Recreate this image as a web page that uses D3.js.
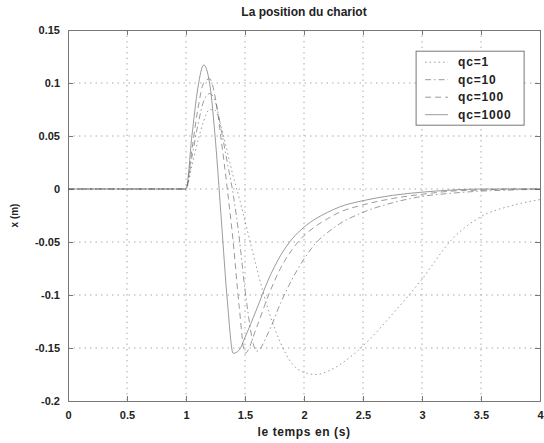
<!DOCTYPE html>
<html>
<head>
<meta charset="utf-8">
<script src="https://cdn.jsdelivr.net/npm/d3@7"></script>
<style>
    body { margin: 0; background: #fff; }
    svg text { font-family: "Liberation Sans", Arial, sans-serif; font-weight: bold; fill: #222; }
</style>
</head>
<body>
<div id="plotSect"></div>
<script>
// Data //

let times = [0, 1, 1.05, 1.1, 1.15, 1.2, 1.25, 1.3, 1.35, 1.4, 1.45, 1.5, 1.6, 1.7, 1.8, 1.9, 2.0, 2.1, 2.2, 2.3, 2.5, 2.75, 3.0, 3.25, 3.5, 3.75, 4.0];

let qc1    = [0, 0, 0.022, 0.045, 0.064, 0.075, 0.074, 0.058, 0.035, 0.012, -0.008, -0.03, -0.075, -0.115, -0.145, -0.165, -0.173, -0.175, -0.172, -0.166, -0.148, -0.118, -0.085, -0.048, -0.026, -0.016, -0.01];
let qc10   = [0, 0, 0.03, 0.06, 0.083, 0.09, 0.082, 0.055, 0.025, -0.005, -0.045, -0.095, -0.153, -0.135, -0.108, -0.085, -0.066, -0.051, -0.041, -0.033, -0.022, -0.013, -0.007, -0.004, -0.002, -0.001, 0];
let qc100  = [0, 0, 0.037, 0.075, 0.1, 0.104, 0.085, 0.045, 0.0, -0.05, -0.11, -0.155, -0.13, -0.1, -0.075, -0.057, -0.044, -0.035, -0.028, -0.022, -0.015, -0.009, -0.005, -0.002, -0.001, 0, 0];
let qc1000 = [0, 0, 0.05, 0.095, 0.117, 0.1, 0.045, -0.03, -0.105, -0.155, -0.152, -0.14, -0.113, -0.085, -0.063, -0.047, -0.036, -0.028, -0.022, -0.017, -0.011, -0.006, -0.003, -0.001, 0, 0, 0];

let seriesNames = ["qc=1", "qc=10", "qc=100", "qc=1000"];
let seriesValues = [qc1, qc10, qc100, qc1000];
let seriesDash = ["1.5,3", "6,3,1.5,3", "6,4", null];

let xTicks = [0, 0.5, 1, 1.5, 2, 2.5, 3, 3.5, 4];
let yTicks = [0.15, 0.1, 0.05, 0, -0.05, -0.1, -0.15, -0.2];

// Chart setup //

let SVGwidth = 544,
SVGheight = 443,
margin = {top: 30, right: 4, bottom: 42, left: 68},
width = SVGwidth - margin.left - margin.right,
height = SVGheight - margin.top - margin.bottom;

let svg = d3.select("#plotSect").append("svg")
    .attr("width", SVGwidth)
    .attr("height", SVGheight)
    .append("g")
    .attr("transform", "translate(" + margin.left + "," + margin.top + ")");

let xScale = d3.scaleLinear().domain([0, 4]).range([0, width]);
let yScale = d3.scaleLinear().domain([-0.2, 0.15]).range([height, 0]);

// dotted grid
svg.append("g")
    .selectAll("line")
    .data(xTicks.slice(1, -1))
    .enter().append("line")
    .attr("x1", xScale).attr("x2", xScale)
    .attr("y1", 0).attr("y2", height)
    .style("stroke", "#aaa")
    .style("stroke-dasharray", "1.5,4");

svg.append("g")
    .selectAll("line")
    .data(yTicks.slice(1, -1))
    .enter().append("line")
    .attr("x1", 0).attr("x2", width)
    .attr("y1", yScale).attr("y2", yScale)
    .style("stroke", "#aaa")
    .style("stroke-dasharray", "1.5,4");

// axes, ticks point inward like matlab
let xAxis = d3.axisBottom(xScale).tickValues(xTicks).tickSize(-5).tickPadding(10)
    .tickFormat(function(d) { return d; });
let yAxis = d3.axisLeft(yScale).tickValues(yTicks).tickSize(-5).tickPadding(8)
    .tickFormat(function(d) { return d; });

svg.append("g")
    .attr("class", "xAxis")
    .attr("transform", "translate(0," + height + ")")
    .call(xAxis);

svg.append("g")
    .attr("class", "yAxis")
    .call(yAxis);

svg.append("g")
    .call(d3.axisTop(xScale).tickValues(xTicks).tickSize(-5).tickFormat(""));

svg.append("g")
    .attr("transform", "translate(" + width + ",0)")
    .call(d3.axisRight(yScale).tickValues(yTicks).tickSize(-5).tickFormat(""));

svg.selectAll(".domain").style("stroke", "#777");
svg.selectAll(".tick line").style("stroke", "#777");
svg.selectAll(".tick text").style("font-size", "11px");

// titles
svg.append("text")
    .attr("x", width / 2)
    .attr("y", -14)
    .style("text-anchor", "middle")
    .style("font-size", "12px")
    .text("La position du chariot");

svg.append("text")
    .attr("transform", "translate(" + (width / 2) + "," + (height + 35) + ")")
    .style("text-anchor", "middle")
    .style("font-size", "12px")
    .style("letter-spacing", "0.6px")
    .text("le temps en (s)");

svg.append("text")
    .attr("transform", "rotate(-90)")
    .attr("x", 0 - yScale(-0.025))
    .attr("y", -50)
    .style("text-anchor", "middle")
    .style("font-size", "10px")
    .text("x (m)");

// curves
let line = d3.line()
    .x(function(d) { return xScale(d[0]); })
    .y(function(d) { return yScale(d[1]); })
    .curve(d3.curveMonotoneX);

seriesValues.forEach(function(vals, i) {
    let pts = times.map(function(t, j) { return [t, vals[j]]; });
    svg.append("path")
        .datum(pts)
        .attr("d", line)
        .style("fill", "none")
        .style("stroke", "#666")
        .style("stroke-opacity", 0.65)
        .style("stroke-width", 1)
        .style("stroke-dasharray", seriesDash[i]);
});

// legend
let legendX = xScale(2.95), legendY = yScale(0.13);
svg.append("rect")
    .attr("x", legendX)
    .attr("y", legendY)
    .attr("width", 108)
    .attr("height", 74)
    .style("fill", "#fff")
    .style("stroke", "#777");

let legend = svg.selectAll(".legend")
    .data(seriesNames)
    .enter().append("g")
    .attr("class", "legend")
    .attr("transform", function(d, i) { return "translate(" + legendX + "," + (legendY + 11 + i * 17.5) + ")"; });

legend.append("line")
    .attr("x1", 9).attr("x2", 32)
    .attr("y1", 0).attr("y2", 0)
    .style("stroke", "#666")
    .style("stroke-opacity", 0.65)
    .style("stroke-dasharray", function(d, i) { return seriesDash[i]; });

legend.append("text")
    .attr("x", 42)
    .attr("dy", "0.35em")
    .style("font-size", "12px")
    .style("letter-spacing", "0.8px")
    .text(function(d) { return d; });
</script>
</body>
</html>
